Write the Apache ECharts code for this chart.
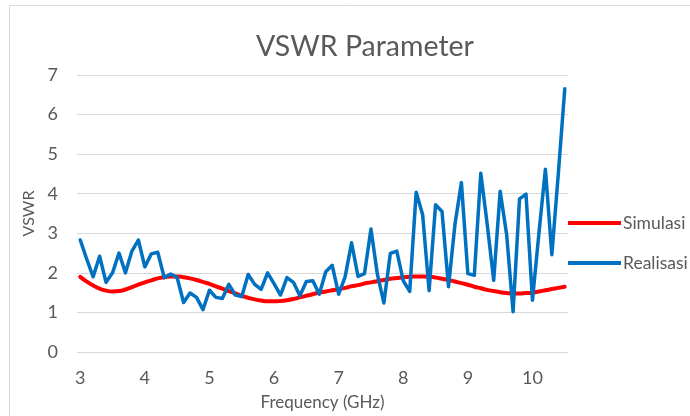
<!DOCTYPE html>
<html>
<head>
<meta charset="utf-8">
<script src="https://cdn.jsdelivr.net/npm/echarts@6/dist/echarts.min.js"></script>
<style>
html,body{margin:0;padding:0;background:#fff;}
#c{width:690px;height:416px;}
</style>
</head>
<body>
<div id="c"></div>
<script>
var freq = ['3.0','3.1','3.2','3.3','3.4','3.5','3.6','3.7','3.8','3.9',
            '4.0','4.1','4.2','4.3','4.4','4.5','4.6','4.7','4.8','4.9',
            '5.0','5.1','5.2','5.3','5.4','5.5','5.6','5.7','5.8','5.9',
            '6.0','6.1','6.2','6.3','6.4','6.5','6.6','6.7','6.8','6.9',
            '7.0','7.1','7.2','7.3','7.4','7.5','7.6','7.7','7.8','7.9',
            '8.0','8.1','8.2','8.3','8.4','8.5','8.6','8.7','8.8','8.9',
            '9.0','9.1','9.2','9.3','9.4','9.5','9.6','9.7','9.8','9.9',
            '10.0','10.1','10.2','10.3','10.4','10.5'];
var simulasi = [1.90,1.78,1.68,1.60,1.55,1.53,1.54,1.58,1.64,1.70,
                1.76,1.81,1.86,1.89,1.91,1.91,1.89,1.86,1.82,1.77,
                1.72,1.66,1.60,1.54,1.48,1.42,1.37,1.33,1.30,1.28,
                1.28,1.29,1.31,1.34,1.38,1.42,1.46,1.50,1.53,1.56,
                1.59,1.62,1.66,1.69,1.73,1.76,1.79,1.82,1.85,1.87,
                1.89,1.90,1.91,1.91,1.90,1.88,1.85,1.82,1.78,1.74,
                1.70,1.65,1.61,1.57,1.54,1.51,1.49,1.48,1.48,1.49,
                1.50,1.53,1.56,1.59,1.62,1.65];
var realisasi = [2.83,2.35,1.90,2.42,1.76,2.00,2.50,2.00,2.55,2.83,
                 2.15,2.48,2.52,1.88,1.97,1.88,1.25,1.49,1.38,1.07,
                 1.56,1.38,1.35,1.71,1.44,1.40,1.96,1.71,1.58,2.00,
                 1.73,1.44,1.88,1.76,1.42,1.78,1.80,1.46,2.03,2.19,
                 1.46,1.90,2.76,1.91,1.98,3.11,1.96,1.24,2.49,2.55,
                 1.80,1.53,4.04,3.47,1.55,3.72,3.55,1.65,3.22,4.28,
                 1.98,1.94,4.52,3.22,1.81,4.06,2.97,1.02,3.87,3.99,
                 1.31,3.00,4.62,2.46,4.50,6.65];
var yTicks = [0,1,2,3,4,5,6,7];

var chart = echarts.init(document.getElementById('c'), null, {renderer:'canvas'});
var font = 'Lato, "Open Sans", sans-serif';
chart.setOption({
  animation:false,
  backgroundColor:'#ffffff',
  textStyle:{fontFamily:font},
  graphic:[{type:'rect',shape:{x:9.5,y:5.5,width:700,height:420},style:{fill:'none',stroke:'#D9D9D9',lineWidth:1}}],
  title:{text:'VSWR Parameter',left:360,top:27,textAlign:'center',
    textStyle:{fontFamily:font,fontSize:28.5,fontWeight:'normal',color:'#595959'}},
  legend:{orient:'vertical',left:568,top:214,padding:0,itemWidth:53,itemHeight:4,itemGap:22,icon:'rect',
    textStyle:{fontFamily:font,fontSize:17.5,color:'#595959',padding:[0,0,0,-3]},
    data:['Simulasi','Realisasi']},
  grid:{left:77,right:122,top:75,bottom:61,containLabel:false},
  xAxis:{type:'category',data:freq,boundaryGap:true,
    name:'Frequency (GHz)',nameLocation:'middle',nameGap:42,
    nameTextStyle:{fontFamily:font,fontSize:17,color:'#595959'},
    axisLine:{show:false},axisTick:{show:false},
    axisLabel:{interval:function(i,v){return i%10===0;},formatter:function(v){return String(parseFloat(v));},
      fontFamily:font,fontSize:18,color:'#595959',margin:17}},
  yAxis:{type:'value',min:yTicks[0],max:yTicks[yTicks.length-1],interval:1,
    name:'VSWR',nameLocation:'middle',nameGap:40,
    nameTextStyle:{fontFamily:font,fontSize:16,color:'#595959'},
    axisLine:{show:false},axisTick:{show:false},
    splitLine:{lineStyle:{color:'#D9D9D9',width:1}},
    axisLabel:{fontFamily:font,fontSize:18,color:'#595959',margin:19}},
  series:[
    {name:'Simulasi',type:'line',data:simulasi,showSymbol:false,smooth:true,
      lineStyle:{color:'#FF0000',width:4,cap:'round',join:'round'},itemStyle:{color:'#FF0000'}},
    {name:'Realisasi',type:'line',data:realisasi,showSymbol:false,
      lineStyle:{color:'#0070C0',width:3.5,cap:'round',join:'round'},itemStyle:{color:'#0070C0'}}
  ]
});
</script>
</body>
</html>
